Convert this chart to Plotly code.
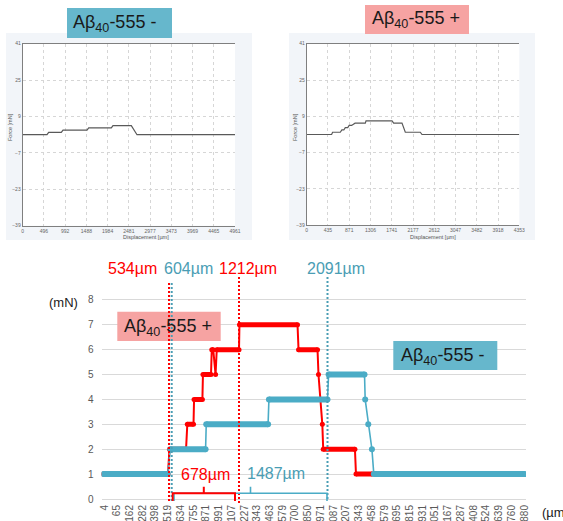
import numpy as np
import plotly.graph_objects as go

W, H = 563, 521

# ---------------- data ----------------
# top-left instrument export: Aβ40-555 -  (displacement µm, force mN)
top_minus_x = [0, 568, 607, 902, 942, 1503, 1542, 2071, 2110, 2538, 2671, 4961]
top_minus_y = [1, 1, 2, 2, 3, 3, 4, 4, 5, 5, 1, 1]
top_minus_xticks = [0, 496, 992, 1488, 1984, 2481, 2977, 3473, 3969, 4465, 4961]

# top-right instrument export: Aβ40-555 +
top_plus_x = [0, 510, 530, 688, 720, 760, 790, 840, 870, 920, 990, 1200, 1215,
              1747, 1781, 1951, 2019, 2326, 2361, 4353]
top_plus_y = [1, 1, 2, 2, 3, 3, 4, 4, 5, 5, 6, 6, 7, 7, 6, 6, 2, 2, 1, 1]
top_plus_xticks = [0, 435, 871, 1306, 1741, 2177, 2612, 3047, 3482, 3918, 4353]

top_yticks = [-39, -23, -7, 9, 25, 41]

# bottom comparison chart (category axis labels in µm)
cat_labels = [4, 65, 162, 282, 398, 519, 634, 755, 871, 991, 1107, 1227, 1343,
              1463, 1579, 1700, 1850, 1971, 2087, 2207, 2343, 2458, 2579, 2695,
              2815, 2931, 3051, 3167, 3287, 3408, 3524, 3639, 3760, 3880]

plus_x = [0, 519, 533, 685, 697, 756, 761, 837, 842, 917, 924, 938, 960, 971,
          1177, 1181, 1727, 1739, 1941, 1950, 1986, 1994, 2301, 2312, 2464]
plus_y = [1, 1, 2, 2, 3, 3, 4, 4, 5, 5, 6, 6, 5, 6,
          6, 7, 7, 6, 6, 5, 3, 2, 2, 1, 1]

minus_x = [0, 517, 540, 866, 872, 1447, 1455, 2033, 2043, 2394, 2400, 2428,
           2461, 2479, 3886]
minus_y = [1, 1, 2, 2, 3, 3, 4, 4, 5, 5, 4, 3, 2, 1, 1]

y_ticks_bottom = list(range(0, 9))

RED = "#FF0000"
TEAL = "#4BACC6"
TEAL_TXT = "#4A9DB4"
PINK_BOX = "#F6A3A2"
TEAL_BOX = "#66B7CC"
FONT = "Liberation Sans, Arial, sans-serif"


def PX(x):
    return x / W


def PY(y):
    return 1 - y / H


tick_um = np.array(cat_labels, float)
tick_pos = np.arange(len(cat_labels), dtype=float)


def cat_pos(um):
    um = np.asarray(um, float)
    pos = np.interp(um, tick_um, tick_pos)
    lo = um < tick_um[0]
    pos[lo] = (um[lo] - tick_um[0]) / (tick_um[1] - tick_um[0])
    hi = um > tick_um[-1]
    pos[hi] = tick_pos[-1] + (um[hi] - tick_um[-1]) / (tick_um[-1] - tick_um[-2])
    return pos


def plateaus(xs, ys):
    px_, py_ = [], []
    for i in range(len(xs) - 1):
        if ys[i] == ys[i + 1]:
            px_ += [xs[i], xs[i + 1], None]
            py_ += [ys[i], ys[i + 1], None]
    return px_, py_


fig = go.Figure()

# top charts
fig.add_trace(go.Scatter(x=top_minus_x, y=top_minus_y, mode="lines",
                         line=dict(color="#595959", width=1.2),
                         xaxis="x", yaxis="y", hoverinfo="skip"))
fig.add_trace(go.Scatter(x=top_plus_x, y=top_plus_y, mode="lines",
                         line=dict(color="#595959", width=1.2),
                         xaxis="x2", yaxis="y2", hoverinfo="skip"))

# bottom chart: red (Aβ40-555 +) then teal (Aβ40-555 -)
for xs, ys, col, thin, thick, msize in [
    (plus_x, plus_y, RED, 2, 5, 5),
    (minus_x, minus_y, TEAL, 1.6, 6, 6),
]:
    cx = list(cat_pos(xs))
    fig.add_trace(go.Scatter(x=cx, y=ys, mode="lines",
                             line=dict(color=col, width=thin),
                             xaxis="x3", yaxis="y3", hoverinfo="skip"))
    tx, ty = plateaus(cx, ys)
    fig.add_trace(go.Scatter(x=tx, y=ty, mode="lines",
                             line=dict(color=col, width=thick),
                             xaxis="x3", yaxis="y3", hoverinfo="skip"))
    fig.add_trace(go.Scatter(x=cx, y=ys, mode="markers",
                             marker=dict(color=col, size=msize, line=dict(width=0)),
                             xaxis="x3", yaxis="y3", hoverinfo="skip"))

small_font = dict(family=FONT, size=5, color="#666666")
grid = dict(showgrid=True, gridcolor="#D6D6D6", griddash="dot", gridwidth=1,
            zeroline=False, showline=True, linecolor="#7F7F7F", linewidth=1,
            tickfont=small_font, ticks="", automargin=False)

fig.update_layout(
    width=W, height=H,
    margin=dict(l=0, r=0, t=0, b=0),
    paper_bgcolor="white", plot_bgcolor="white",
    showlegend=False,
    xaxis=dict(domain=[PX(22.7), PX(235)], range=[0, 4961],
               tickvals=top_minus_xticks, anchor="y", mirror=True, **grid),
    yaxis=dict(domain=[PY(225.7), PY(43.7)], range=[-39, 41],
               tickvals=top_yticks, anchor="x", **grid),
    xaxis2=dict(domain=[PX(306.7), PX(519.3)], range=[0, 4353],
                tickvals=top_plus_xticks, anchor="y2", mirror=True, **grid),
    yaxis2=dict(domain=[PY(225.3), PY(43.7)], range=[-39, 41],
                tickvals=top_yticks, anchor="x2", **grid),
    xaxis3=dict(domain=[PX(101.5), PX(526)], range=[-0.22, 33.13],
                tickmode="array", tickvals=list(tick_pos),
                ticktext=[str(v) for v in cat_labels], tickangle=-90,
                tickfont=dict(family=FONT, size=10, color="#595959"),
                showgrid=False, zeroline=False, showline=False, ticks="",
                anchor="y3", automargin=False),
    yaxis3=dict(domain=[PY(502), PY(275)], range=[-0.12, 9.0],
                tickvals=y_ticks_bottom,
                tickfont=dict(family=FONT, size=10, color="#595959"),
                showgrid=True, gridcolor="#D9D9D9", gridwidth=1,
                zeroline=False, showline=False, ticks="outside", ticklen=5,
                tickcolor="rgba(0,0,0,0)", anchor="x3", automargin=False),
)

shapes = []


def rect(x0, y0, x1, y1, fill, layer="below"):
    shapes.append(dict(type="rect", xref="paper", yref="paper",
                       x0=PX(x0), x1=PX(x1), y0=PY(y1), y1=PY(y0),
                       fillcolor=fill, line=dict(width=0), layer=layer))


# panel backgrounds of the instrument screenshots
rect(6, 33, 252, 240, "#F2F5F9")
rect(289, 33, 535, 240, "#F2F5F9")
rect(22.7, 43.7, 235, 225.7, "white")
rect(306.7, 43.7, 519.3, 225.3, "white")

# label boxes
rect(67, 8, 172, 38, TEAL_BOX, "above")
rect(365, 5, 469, 34, PINK_BOX, "above")
rect(117.3, 311.7, 220.7, 341, PINK_BOX, "above")
rect(393.3, 341, 497.3, 370, TEAL_BOX, "above")


def vline(x, y0, y1, col):
    shapes.append(dict(type="line", xref="paper", yref="paper",
                       x0=PX(x), x1=PX(x), y0=PY(y0), y1=PY(y1),
                       line=dict(color=col, width=2, dash="2px,2px")))


vline(169, 283, 503, RED)
vline(171.7, 283, 503, TEAL_TXT)
vline(239, 277, 503, RED)
vline(327.5, 277, 499, TEAL_TXT)


def bracket(xa, xb, xm, y, col, w):
    p = (f"M {PX(xa)},{PY(y + 7.7)} L {PX(xa)},{PY(y)} L {PX(xb)},{PY(y)} "
         f"L {PX(xb)},{PY(y + 7.7)} M {PX(xm)},{PY(y)} L {PX(xm)},{PY(y - 6.6)}")
    shapes.append(dict(type="path", xref="paper", yref="paper", path=p,
                       line=dict(color=col, width=w)))


bracket(174, 327, 250.5, 493.3, TEAL, 1.6)
bracket(172.7, 235, 203.8, 493.3, RED, 2)

fig.update_layout(shapes=shapes)


def text(x, y, s, size, col, angle=0, xanchor="center"):
    fig.add_annotation(x=PX(x), y=PY(y), xref="paper", yref="paper", text=s,
                       showarrow=False, xanchor=xanchor, yanchor="middle",
                       textangle=angle,
                       font=dict(family=FONT, size=size, color=col))


AB = "Aβ<sub>40</sub>-555 "
text(114.5, 24, AB + "-", 18, "#1A1A1A")
text(416, 20, AB + "+", 18, "#1A1A1A")
text(168, 327, AB + "+", 18, "#1A1A1A")
text(442.5, 356, AB + "-", 18, "#1A1A1A")

# screenshot axis titles
text(146, 236.6, "Displacement [µm]", 5.5, "#555555")
text(433, 236.6, "Displacement [µm]", 5.5, "#555555")
text(10, 127, "Force [mN]", 5.5, "#555555", angle=-90)
text(295, 127, "Force [mN]", 5.5, "#555555", angle=-90)

# bottom chart annotations
text(132.5, 268, "534µm", 16, RED)
text(188.3, 268, "604µm", 16, TEAL_TXT)
text(247.5, 268, "1212µm", 16, RED)
text(335.8, 268, "2091µm", 16, TEAL_TXT)
text(205, 474, "678µm", 16, RED)
text(275.5, 473, "1487µm", 16, TEAL_TXT)
text(63, 302, "(mN)", 13, "#1A1A1A")
text(540, 512, "(µm)", 13, "#1A1A1A", xanchor="left")

fig.write_html("out.html",
               config={"displayModeBar": False},
               post_script="document.body.style.margin='0';"
                           "document.body.style.overflow='hidden';")
